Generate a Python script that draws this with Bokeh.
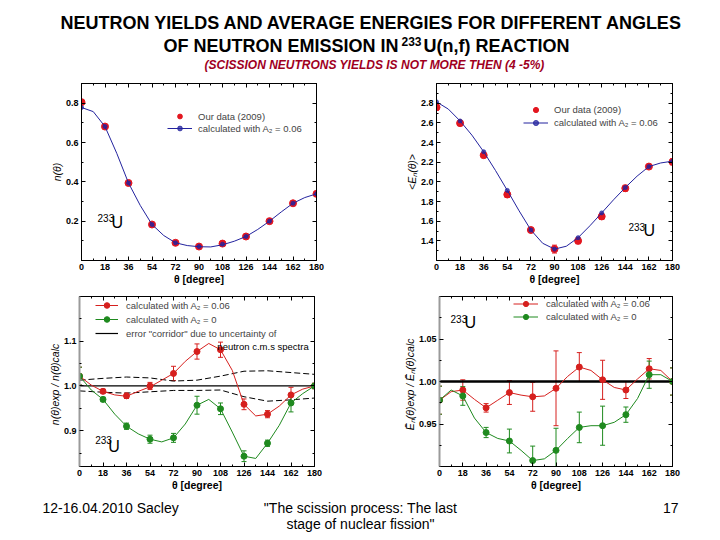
import numpy as np
from bokeh.plotting import figure
from bokeh.models import (Range1d, FixedTicker, LinearAxis, PrintfTickFormatter,
                          Label, Legend, LegendItem, Whisker, ColumnDataSource, TeeHead)
from bokeh.layouts import column, row
from bokeh.embed import file_html
from bokeh.resources import INLINE

# ---------------- data ----------------
theta = [0, 18, 36, 54, 72, 90, 108, 126, 144, 162, 180]
theta_curve = [0, 9, 18, 27, 36, 45, 54, 63, 72, 81, 90, 99, 108, 117, 126, 135, 144, 153, 162, 171, 180]
x_minor = [9, 27, 45, 63, 81, 99, 117, 135, 153, 171]
unity = [1.0] * len(theta)

# panel 1: neutron yields n(theta)
yield_exp = [0.805, 0.681, 0.394, 0.183, 0.090, 0.071, 0.086, 0.122, 0.200, 0.291, 0.339]
yield_exp_err = [0.012, 0.008, 0.008, 0.008, 0.006, 0.006, 0.006, 0.006, 0.006, 0.006, 0.006]
yield_calc = [0.778, 0.681, 0.394, 0.183, 0.090, 0.071, 0.083, 0.122, 0.200, 0.291, 0.339]
yield_curve = [0.778, 0.757, 0.681, 0.545, 0.394, 0.280, 0.183, 0.127, 0.090, 0.076, 0.070,
               0.069, 0.080, 0.098, 0.122, 0.158, 0.200, 0.247, 0.291, 0.320, 0.339]

# panel 2: average energies E_n(theta)
energy_exp = [2.758, 2.597, 2.271, 1.871, 1.510, 1.316, 1.400, 1.648, 1.935, 2.155, 2.203]
energy_exp_err = [0.03, 0.02, 0.02, 0.03, 0.02, 0.04, 0.03, 0.03, 0.03, 0.02, 0.03]
energy_calc = [2.813, 2.619, 2.306, 1.913, 1.510, 1.316, 1.432, 1.684, 1.942, 2.155, 2.210]
energy_curve = [2.813, 2.740, 2.619, 2.475, 2.306, 2.115, 1.913, 1.705, 1.510, 1.375, 1.316,
                1.345, 1.432, 1.553, 1.684, 1.817, 1.942, 2.058, 2.155, 2.192, 2.210]

# panel 3: yield ratio exp / calc
ratio_y_a06 = [1.022, 0.988, 0.978, 1.000, 1.028, 1.077, 1.081, 0.959, 0.937, 0.980, 1.000]
ratio_y_a06_err = [0.020, 0.005, 0.006, 0.008, 0.016, 0.017, 0.017, 0.012, 0.008, 0.017, 0.006]
ratio_y_a0 = [1.022, 0.970, 0.910, 0.881, 0.884, 0.957, 0.949, 0.843, 0.872, 0.962, 1.000]
ratio_y_a0_err = [0.020, 0.005, 0.007, 0.009, 0.010, 0.020, 0.013, 0.012, 0.007, 0.020, 0.006]
ratio_y_a06_curve = [1.022, 1.002, 0.988, 0.980, 0.977, 0.988, 0.998, 1.013, 1.028, 1.055, 1.077,
                     1.095, 1.081, 1.035, 0.959, 0.933, 0.937, 0.955, 0.980, 0.993, 1.000]
ratio_y_a0_curve = [1.022, 0.991, 0.970, 0.937, 0.910, 0.893, 0.881, 0.875, 0.884, 0.915, 0.957,
                    0.970, 0.949, 0.897, 0.843, 0.838, 0.872, 0.912, 0.962, 0.983, 1.000]
corridor_upper = [1.013, 1.017, 1.020, 1.018, 1.011, 1.013, 1.022, 1.033, 1.034, 1.030, 1.026]
corridor_lower = [0.989, 0.986, 0.984, 0.987, 0.990, 0.990, 0.991, 0.976, 0.966, 0.969, 0.973]

# panel 4: energy ratio exp / calc
ratio_e_a06 = [0.978, 0.990, 0.969, 0.987, 0.982, 0.992, 1.017, 1.002, 0.990, 1.015, 1.000]
ratio_e_a06_err = [0.0165, 0.012, 0.005, 0.014, 0.017, 0.044, 0.017, 0.023, 0.010, 0.012, 0.016]
ratio_e_a0 = [0.978, 0.983, 0.940, 0.930, 0.907, 0.919, 0.946, 0.948, 0.961, 1.008, 1.000]
ratio_e_a0_err = [0.0165, 0.011, 0.006, 0.014, 0.017, 0.026, 0.018, 0.023, 0.009, 0.016, 0.016]
ratio_e_a06_curve = [0.978, 0.988, 0.990, 0.979, 0.969, 0.978, 0.987, 0.984, 0.982, 0.983, 0.992,
                     1.006, 1.017, 1.013, 1.002, 0.993, 0.990, 1.003, 1.015, 1.013, 1.000]
ratio_e_a0_curve = [0.978, 0.990, 0.983, 0.957, 0.940, 0.933, 0.930, 0.919, 0.907, 0.909, 0.919,
                    0.933, 0.946, 0.948, 0.948, 0.952, 0.961, 0.980, 1.008, 1.008, 1.000]

# ---------------- styles ----------------
SANS = "Liberation Sans"
RED = "#E3161F"
BLUE = "#23239E"
RED2 = "#D6201E"
GREEN = "#1F8A1F"


def style_axis(ax, labels=True):
    ax.major_tick_in = 4
    ax.major_tick_out = 0
    ax.minor_tick_in = 2
    ax.minor_tick_out = 0
    ax.axis_line_color = "black"
    ax.major_tick_line_color = "black"
    ax.minor_tick_line_color = "black"
    if labels:
        ax.major_label_text_font = SANS
        ax.major_label_text_font_style = "bold"
        ax.major_label_text_font_size = "9px"
        ax.major_label_text_color = "black"
        ax.major_label_standoff = 3
        ax.axis_label_text_font = SANS
        ax.axis_label_text_font_size = "10.5px"
        ax.axis_label_text_color = "black"
        ax.axis_label_standoff = 0
    else:
        ax.major_label_text_color = None
        ax.major_label_text_font_size = "1px"
        ax.major_label_standoff = 0


def make_panel(w, h, lb, rb, tb, bb, yr, yticks, yminor, yfmt, ylabel):
    p = figure(width=w, height=h, x_range=Range1d(0, 180), y_range=Range1d(*yr),
               output_backend="svg", toolbar_location=None,
               min_border_left=lb, min_border_right=rb, min_border_top=tb, min_border_bottom=bb)
    p.grid.visible = False
    p.outline_line_color = "black"
    p.xaxis.ticker = FixedTicker(ticks=theta, minor_ticks=x_minor)
    p.yaxis.ticker = FixedTicker(ticks=yticks, minor_ticks=yminor)
    p.xaxis.formatter = PrintfTickFormatter(format="%d")
    p.yaxis.formatter = PrintfTickFormatter(format=yfmt)
    for ax in p.xaxis + p.yaxis:
        style_axis(ax)
    p.xaxis.axis_label = "\u03b8 [degree]"
    p.xaxis.axis_label_text_font_style = "bold"
    p.yaxis.axis_label = ylabel
    p.yaxis.axis_label_text_font_style = "italic"
    top = LinearAxis(ticker=FixedTicker(ticks=theta, minor_ticks=x_minor))
    right = LinearAxis(ticker=FixedTicker(ticks=yticks, minor_ticks=yminor))
    style_axis(top, False)
    style_axis(right, False)
    p.add_layout(top, "above")
    p.add_layout(right, "right")
    return p


def whiskers(p, y, err, color):
    src = ColumnDataSource(dict(x=theta,
                                upper=list(np.array(y) + np.array(err)),
                                lower=list(np.array(y) - np.array(err))))
    wk = Whisker(source=src, base="x", upper="upper", lower="lower",
                 line_color=color, line_width=1,
                 upper_head=TeeHead(size=5, line_color=color, line_width=1),
                 lower_head=TeeHead(size=5, line_color=color, line_width=1))
    p.add_layout(wk)


def text(p, x, y, t, size="10px", style="normal", align="left", color="black"):
    p.add_layout(Label(x=x, y=y, text=t, text_font=SANS, text_font_size=size,
                       text_font_style=style, text_align=align, text_baseline="middle",
                       text_color=color))


def legend(p, items, loc, gw, gh, standoff):
    lg = Legend(items=items, location=loc, border_line_color=None, background_fill_alpha=0,
                padding=0, spacing=0, margin=0, label_text_font=SANS,
                label_text_font_size="9.5px", glyph_width=gw, glyph_height=gh,
                label_height=gh, label_standoff=standoff)
    p.add_layout(lg)


# ---------------- panel 1 ----------------
p1 = make_panel(376, 214, 81, 60, 5, 32, (0, 0.9), [0.2, 0.4, 0.6, 0.8],
                [0.1, 0.3, 0.5, 0.7, 0.9], "%.1f", "n(\u03b8)")
whiskers(p1, yield_exp, yield_exp_err, RED)
r1e = p1.scatter(theta, yield_exp, size=7, color=RED)
r1l = p1.line(theta_curve, yield_curve, color=BLUE, line_width=1)
r1c = p1.scatter(theta, yield_calc, size=4, color=BLUE, alpha=0.75)
legend(p1, [LegendItem(label="Our data (2009)", renderers=[r1e]),
            LegendItem(label="calculated with A\u2082 = 0.06", renderers=[r1l, r1c])],
       (86, 126), 25, 12, 6)
text(p1, 12.3, 0.218, "233", size="10px")
text(p1, 23.0, 0.193, "U", size="16px")

# ---------------- panel 2 ----------------
p2 = make_panel(336, 214, 60, 40, 4, 26, (1.2, 3.0),
                [1.4, 1.6, 1.8, 2.0, 2.2, 2.4, 2.6, 2.8],
                [1.3, 1.5, 1.7, 1.9, 2.1, 2.3, 2.5, 2.7, 2.9], "%.1f", "<E\u2099(\u03b8)>")
whiskers(p2, energy_exp, energy_exp_err, RED)
r2e = p2.scatter(theta, energy_exp, size=7, color=RED)
r2l = p2.line(theta_curve, energy_curve, color=BLUE, line_width=1)
r2c = p2.scatter(theta, energy_calc, size=4, color=BLUE, alpha=0.75)
legend(p2, [LegendItem(label="Our data (2009)", renderers=[r2e]),
            LegendItem(label="calculated with A\u2082 = 0.06", renderers=[r2l, r2c])],
       (87, 131), 25, 13, 6)
text(p2, 146.4, 1.54, "233", size="10px")
text(p2, 157.9, 1.501, "U", size="16px")

# ---------------- panel 3 ----------------
p3 = make_panel(376, 207, 79, 62, 1, 33, (0.82, 1.2), [0.9, 1.0, 1.1],
                [0.85, 0.95, 1.05, 1.15], "%.1f", "n(\u03b8)exp  /  n(\u03b8)calc")
r3ref = p3.line(theta, unity, color="black", line_width=1.2)
p3.line(theta, corridor_upper, color="black", line_width=1, line_dash="6 3")
p3.line(theta, corridor_lower, color="black", line_width=1, line_dash="6 3")
whiskers(p3, ratio_y_a06, ratio_y_a06_err, RED2)
whiskers(p3, ratio_y_a0, ratio_y_a0_err, GREEN)
r3al = p3.line(theta_curve, ratio_y_a06_curve, color=RED2, line_width=1)
r3ap = p3.scatter(theta, ratio_y_a06, size=6, color=RED2)
r3bl = p3.line(theta_curve, ratio_y_a0_curve, color=GREEN, line_width=1)
r3bp = p3.scatter(theta, ratio_y_a0, size=6, color=GREEN)
legend(p3, [LegendItem(label="calculated with A\u2082 = 0.06", renderers=[r3al, r3ap]),
            LegendItem(label="calculated with A\u2082 = 0", renderers=[r3bl, r3bp]),
            LegendItem(label="error \"corridor\" due to uncertainty of", renderers=[r3ref])],
       (16, 126), 23, 14, 8)
text(p3, 105.6, 1.0875, "neutron c.m.s spectra", size="9.5px")
text(p3, 12.0, 0.879, "233", size="10px")
text(p3, 22.0, 0.864, "U", size="16px")
p3.yaxis[0].axis_line_color = "#9a9a9a"
p3.yaxis[0].axis_line_width = 2

# ---------------- panel 4 ----------------
p4 = make_panel(336, 207, 63, 40, 4, 26, (0.9, 1.1), [0.95, 1.0, 1.05],
                [0.925, 0.975, 1.025, 1.075], "%.2f",
                "\u0112\u2099(\u03b8)exp  /  \u0112\u2099(\u03b8)calc")
p4.line(theta, unity, color="black", line_width=2.5)
whiskers(p4, ratio_e_a06, ratio_e_a06_err, RED2)
whiskers(p4, ratio_e_a0, ratio_e_a0_err, GREEN)
r4al = p4.line(theta_curve, ratio_e_a06_curve, color=RED2, line_width=1)
r4ap = p4.scatter(theta, ratio_e_a06, size=6, color=RED2)
r4bl = p4.line(theta_curve, ratio_e_a0_curve, color=GREEN, line_width=1)
r4bp = p4.scatter(theta, ratio_e_a0, size=6, color=GREEN)
legend(p4, [LegendItem(label="calculated with A\u2082 = 0.06", renderers=[r4al, r4ap]),
            LegendItem(label="calculated with A\u2082 = 0", renderers=[r4bl, r4bp])],
       (74, 143), 25, 13, 8)
text(p4, 8.5, 1.073, "233", size="10px")
text(p4, 19.3, 1.070, "U", size="16px")
p4.yaxis[0].axis_line_color = "#9a9a9a"
p4.yaxis[0].axis_line_width = 2


# ---------------- title and footer ----------------
def blank(w, h):
    f = figure(width=w, height=h, x_range=Range1d(0, w), y_range=Range1d(h, 0),
               output_backend="svg", toolbar_location=None, min_border=0,
               x_axis_type=None, y_axis_type=None)
    f.grid.visible = False
    f.outline_line_color = None
    return f


title = blank(712, 78)
text(title, 60, 22, "NEUTRON YIELDS AND AVERAGE ENERGIES FOR DIFFERENT ANGLES",
     size="18px", style="bold")
text(title, 398, 45, "OF NEUTRON EMISSION IN", size="18px", style="bold", align="right")
text(title, 401, 41, "233", size="12px", style="bold")
text(title, 423, 45, "U(n,f) REACTION", size="18px", style="bold")
text(title, 374, 64, "(SCISSION NEUTRONS YIELDS IS NOT MORE THEN (4 -5%)", size="12px",
     style="bold italic", align="center", color="#A0001E")

footer = blank(712, 35)
text(footer, 42, 8, "12-16.04.2010  Sacley", size="14px")
text(footer, 360, 8, "\"The scission process: The last", size="14px", align="center")
text(footer, 360, 24, "stage of nuclear fission\"", size="14px", align="center")
text(footer, 678, 8, "17", size="14px", align="right")

layout = column(title, row(p1, p2), row(p3, p4), footer)
open("out.html", "w").write(file_html(layout, INLINE))
